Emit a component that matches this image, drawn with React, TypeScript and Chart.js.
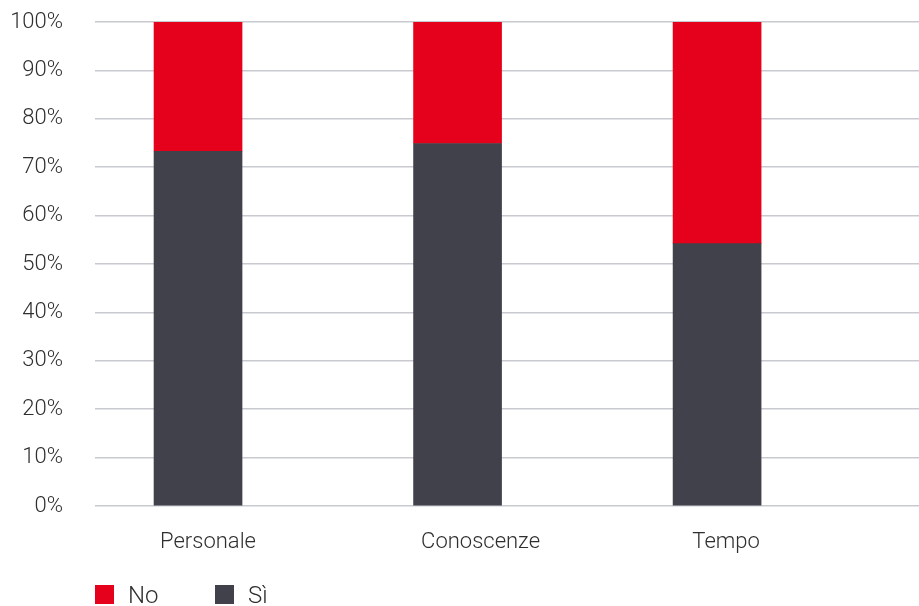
import React, { useEffect, useRef } from "react";
import { Chart, registerables } from "chart.js";

Chart.register(...registerables);

const CATEGORIES = ["Personale", "Conoscenze", "Tempo"];
const SI_VALUES = [73.3, 74.9, 54.2];
const NO_VALUES = [26.7, 25.1, 45.8];
const Y_TICKS = [0, 10, 20, 30, 40, 50, 60, 70, 80, 90, 100];

// Horizontal nudge (px) of each category label relative to its bar centre
const LABEL_NUDGE_PX = [10, 23, 9];

const RED = "#e5001b";
const DARK = "#41414b";
const TEXT = "#2f2f2f";
const GRID = "#c8cad0";
const FONT = "Roboto";

const X_MIN = -0.397;
const X_MAX = 2.778;
const PLOT_WIDTH_PX = 824;

export default function App() {
  const canvasRef = useRef<HTMLCanvasElement | null>(null);

  useEffect(() => {
    const canvas = canvasRef.current;
    if (!canvas) return;
    const unitsPerPx = (X_MAX - X_MIN) / PLOT_WIDTH_PX;
    const chart = new Chart(canvas, {
      type: "bar",
      data: {
        datasets: [
          {
            label: "Sì",
            data: SI_VALUES.map((v, i) => ({ x: i, y: v })),
            backgroundColor: DARK,
            barThickness: 88,
          },
          {
            label: "No",
            data: NO_VALUES.map((v, i) => ({ x: i, y: v })),
            backgroundColor: RED,
            barThickness: 88,
          },
        ],
      },
      options: {
        animation: false,
        responsive: true,
        maintainAspectRatio: false,
        layout: { padding: { top: 22, left: 0, right: 0, bottom: 0 } },
        plugins: {
          legend: { display: false },
          tooltip: { enabled: false },
        },
        scales: {
          x: {
            type: "linear",
            stacked: true,
            offset: false,
            min: X_MIN,
            max: X_MAX,
            afterBuildTicks: (scale: any) => {
              scale.ticks = CATEGORIES.map((_, i) => ({
                value: i + LABEL_NUDGE_PX[i] * unitsPerPx,
                label: CATEGORIES[i],
              }));
            },
            afterFit: (scale: any) => {
              scale.height = 100;
              scale.paddingLeft = 0;
              scale.paddingRight = 0;
            },
            grid: { display: false, drawTicks: false },
            border: { display: false },
            ticks: {
              autoSkip: false,
              maxRotation: 0,
              padding: 23,
              color: TEXT,
              font: { family: FONT, size: 22, weight: "300" },
              callback: (v: any) => CATEGORIES[Math.round(Number(v))] ?? "",
            },
          },
          y: {
            stacked: true,
            min: 0,
            max: 100,
            afterBuildTicks: (scale: any) => {
              scale.ticks = Y_TICKS.map((v) => ({ value: v }));
            },
            afterFit: (scale: any) => {
              scale.width = 95;
              scale.paddingTop = 0;
              scale.paddingBottom = 0;
            },
            grid: {
              color: GRID,
              lineWidth: 1.5,
              drawTicks: false,
            },
            border: { display: false },
            ticks: {
              padding: 32,
              color: TEXT,
              font: { family: FONT, size: 22, weight: "300" },
              callback: (v: any) => `${v}%`,
            },
          },
        },
      },
    });
    return () => chart.destroy();
  }, []);

  const legendItems = [
    { label: "No", color: RED, left: 95 },
    { label: "Sì", color: DARK, left: 215 },
  ];

  return (
    <div
      style={{
        position: "fixed",
        left: 0,
        top: 0,
        width: 919,
        height: 606,
        overflow: "hidden",
        background: "#ffffff",
      }}
    >
      <canvas ref={canvasRef} style={{ width: "100%", height: "100%" }} />
      {legendItems.map((item) => (
        <div
          key={item.label}
          style={{
            position: "absolute",
            left: item.left,
            top: 585,
            display: "flex",
            alignItems: "flex-start",
          }}
        >
          <span
            style={{
              display: "inline-block",
              width: 19,
              height: 19,
              background: item.color,
            }}
          />
          <span
            style={{
              marginLeft: 14,
              marginTop: -4,
              fontFamily: FONT,
              fontWeight: 300,
              fontSize: 24,
              lineHeight: "28px",
              color: TEXT,
            }}
          >
            {item.label}
          </span>
        </div>
      ))}
    </div>
  );
}
